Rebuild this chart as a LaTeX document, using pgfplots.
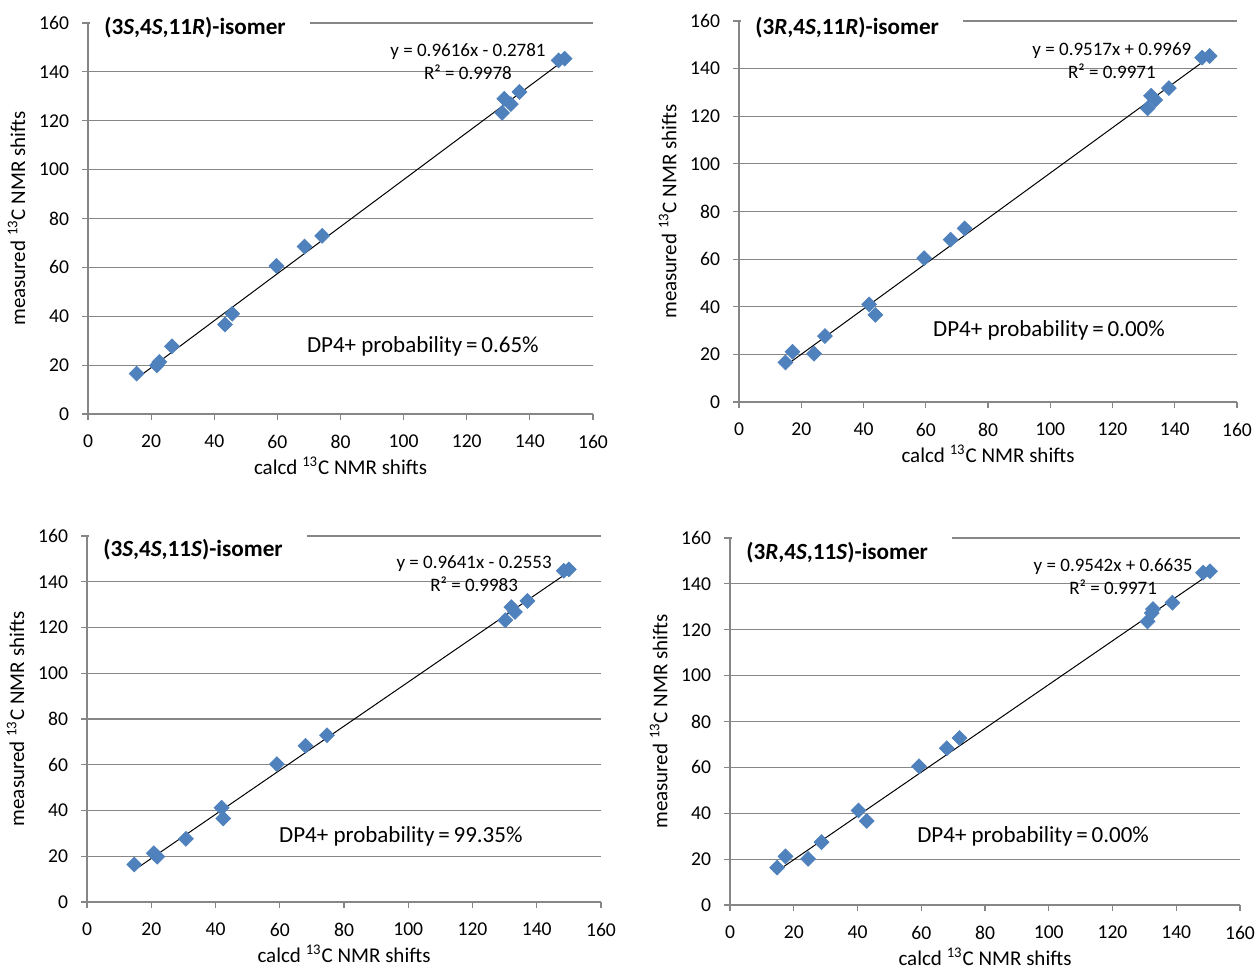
\documentclass[border=0pt]{standalone}
\usepackage{fontspec}
\setmainfont{Carlito}
\usepackage{pgfplots}
\pgfplotsset{compat=1.18}

\definecolor{exblue}{RGB}{79,129,189}
\definecolor{axgray}{RGB}{134,134,134}

\pgfplotsset{
  nmr/.style={
    scale only axis, anchor=south west, clip=false,
    xmin=0, xmax=160, ymin=0, ymax=160,
    xtick distance=20, ytick distance=20,
    axis x line=bottom, axis y line=left,
    axis line style={axgray, -, line width=0.6pt},
    ymajorgrids, grid style={axgray, line width=0.6pt},
    tick align=outside, major tick length=3pt,
    tick style={axgray, line width=0.6pt},
    ticklabel style={font=\fontsize{9.8}{11}\selectfont},
    xticklabel style={yshift=-4pt},
    yticklabel style={xshift=-3pt},
    /pgf/number format/assume math mode=true,
    label style={font=\fontsize{10.5}{12}\selectfont},
    xlabel style={yshift=2.5pt},
    xlabel={calcd \textsuperscript{13}C NMR shifts},
    ylabel={measured \textsuperscript{13}C NMR shifts},
  },
  pts/.style={only marks, mark=square*, mark size=2.6pt,
    mark options={rotate=45, fill=exblue, draw=exblue}},
  trend/.style={black, line width=0.5pt, no marks},
}
\tikzset{
  ttl/.style={fill=white, anchor=west, inner xsep=0pt, inner ysep=3pt,
    font=\fontsize{11.6}{13}\selectfont\bfseries},
  eqn/.style={align=center, font=\fontsize{9.5}{11.5}\selectfont},
  dp4/.style={font=\fontsize{11.5}{13}\selectfont},
}

\begin{document}
\begin{tikzpicture}
\useasboundingbox (0,0) rectangle (628.5pt,484.5pt);

% (3S,4S,11R)
\begin{axis}[nmr, at={(44pt,277.5pt)}, width=252.5pt, height=195.5pt]
\addplot[pts] coordinates {
  (15.4,16.5) (21.8,19.9) (22.6,21.3) (26.6,27.7) (43.4,36.6)
  (45.7,41.0) (59.7,60.6) (68.6,68.5) (74.2,72.9) (131.2,123.2)
  (131.9,129.0) (134.0,126.8) (136.7,131.8) (149.1,144.7) (151.0,145.4)
};
\addplot[trend] coordinates {(15.4,14.53) (151.0,144.92)};
\node[ttl] at (axis cs:0.6,158) {\hspace*{7pt}(3\textit{S},4\textit{S},11\textit{R})-isomer\hspace*{12pt}\null};
\node[eqn] at (axis cs:120.4,144.4) {y = 0.9616x - 0.2781\\R² = 0.9978};
\node[dp4] at (axis cs:106.1,27.8) {DP4+ probability\,=\,0.65\%};
\end{axis}

% (3R,4S,11R)
\begin{axis}[nmr, at={(369.5pt,283.5pt)}, width=249pt, height=190.5pt]
\addplot[pts] coordinates {
  (14.9,16.6) (17.2,21.1) (24.1,20.3) (27.6,27.7) (41.8,41.0)
  (43.8,36.6) (59.5,60.4) (68.0,68.2) (72.5,72.9) (131.3,123.3)
  (132.4,128.6) (133.7,126.8) (138.1,131.8) (148.8,144.6) (151.2,145.3)
};
\addplot[trend] coordinates {(14.9,15.18) (151.2,144.89)};
\node[ttl] at (axis cs:0.6,157.1) {\hspace*{7pt}(3\textit{R},4\textit{S},11\textit{R})-isomer\hspace*{12pt}\null};
\node[eqn] at (axis cs:119.8,143.2) {y = 0.9517x + 0.9969\\R² = 0.9971};
\node[dp4] at (axis cs:99.6,30.2) {DP4+ probability\,=\,0.00\%};
\end{axis}

% (3S,4S,11S)
\begin{axis}[nmr, at={(43.5pt,33.5pt)}, width=257pt, height=183pt]
\addplot[pts] coordinates {
  (14.7,16.4) (20.8,21.3) (21.9,19.8) (30.8,27.6) (41.9,41.2)
  (42.4,36.5) (59.1,60.3) (68.0,68.3) (74.7,72.9) (130.2,123.2)
  (132.1,128.9) (133.2,126.8) (137.1,131.6) (148.4,144.8) (150.0,145.4)
};
\addplot[trend] coordinates {(14.7,13.92) (150.0,144.36)};
\node[ttl] at (axis cs:0.6,153.9) {\hspace*{7pt}(3\textit{S},4\textit{S},11\textit{S})-isomer\hspace*{12pt}\null};
\node[eqn] at (axis cs:120.5,143.4) {y = 0.9641x - 0.2553\\R² = 0.9983};
\node[dp4] at (axis cs:97.7,28.9) {DP4+ probability\,=\,99.35\%};
\end{axis}

% (3R,4S,11S)
\begin{axis}[nmr, at={(365pt,32pt)}, width=255pt, height=183.5pt]
\addplot[pts] coordinates {
  (14.8,16.3) (17.4,21.2) (24.5,20.1) (28.7,27.4) (40.3,41.2)
  (42.9,36.6) (59.3,60.5) (68.0,68.3) (72.0,72.8) (131.0,123.6)
  (132.7,129.0) (132.3,127.3) (138.8,131.8) (148.4,144.9) (150.6,145.5)
};
\addplot[trend] coordinates {(14.8,14.79) (150.6,144.37)};
\node[ttl] at (axis cs:0.6,153.5) {\hspace*{7pt}(3\textit{R},4\textit{S},11\textit{S})-isomer\hspace*{12pt}\null};
\node[eqn] at (axis cs:120.2,143.0) {y = 0.9542x + 0.6635\\R² = 0.9971};
\node[dp4] at (axis cs:95.1,30.1) {DP4+ probability\,=\,0.00\%};
\end{axis}
\end{tikzpicture}
\end{document}
